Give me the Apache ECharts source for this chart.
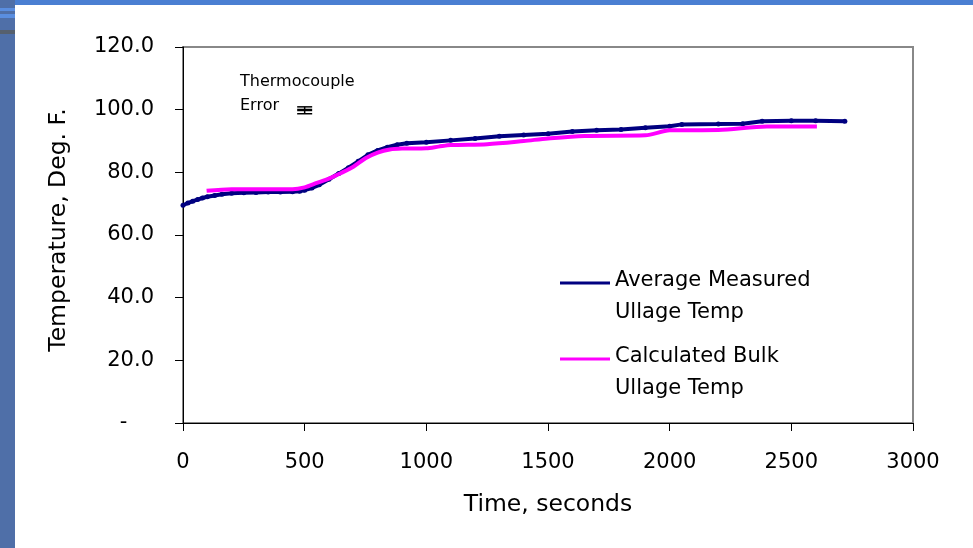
<!DOCTYPE html>
<html>
<head>
<meta charset="utf-8">
<script src="https://cdn.jsdelivr.net/npm/echarts@6/dist/echarts.min.js"></script>
<style>
html,body{margin:0;padding:0;background:#fff;}
#chart{width:973px;height:548px;}
</style>
</head>
<body>
<div id="chart"></div>
<script>
// Average Measured Ullage Temp (seconds, deg F)
const measuredTime = [0, 20, 40, 60, 80, 100, 130, 160, 200, 250, 300, 350, 400, 450, 480, 500, 530, 560, 600, 640, 680, 720, 760, 800, 840, 880, 920, 1000, 1100, 1200, 1300, 1400, 1500, 1600, 1700, 1800, 1900, 2000, 2050, 2200, 2300, 2380, 2500, 2600, 2720];
const measuredTemp = [69.5, 70.2, 70.8, 71.3, 71.8, 72.2, 72.6, 73.0, 73.3, 73.5, 73.6, 73.7, 73.7, 73.8, 74.0, 74.3, 75.0, 76.0, 77.8, 79.6, 81.5, 83.5, 85.6, 87.0, 88.0, 88.8, 89.3, 89.6, 90.2, 90.8, 91.5, 91.9, 92.3, 93.0, 93.4, 93.7, 94.2, 94.7, 95.3, 95.4, 95.5, 96.3, 96.5, 96.5, 96.3];
// Calculated Bulk Ullage Temp
const calcTime = [97, 200, 300, 450, 500, 550, 600, 650, 700, 750, 800, 850, 900, 1000, 1050, 1100, 1250, 1400, 1500, 1650, 1900, 2000, 2200, 2400, 2605];
const calcTemp = [74.1, 74.6, 74.6, 74.6, 75.2, 76.6, 78.0, 79.8, 81.8, 84.5, 86.3, 87.3, 87.6, 87.7, 88.2, 88.7, 89.0, 90.0, 90.8, 91.6, 91.8, 93.4, 93.5, 94.6, 94.6];
// Thermocouple error bar: [time, center, low, high]
const errorBar = [[500, 99.9, 98.7, 100.9]];
const seriesNames = ['Average Measured\nUllage Temp', 'Calculated Bulk\nUllage Temp'];
const xTitle = 'Time, seconds';
const yTitle = 'Temperature, Deg. F.';
const annotation = 'Thermocouple\nError';

const zip = (a, b) => a.map((v, i) => [v, b[i]]);
const FONT = '"DejaVu Sans", "Liberation Sans", Arial, sans-serif';
// legend icon: a short bar aligned with the first text line
const legendIcon = 'path://M0,0h0.01v0.01h-0.01Z M0,17h50v3h-50Z M49.99,63.99h0.01v0.01h-0.01Z';

const legendBase = {
  left: 560, padding: 0, orient: 'vertical', icon: legendIcon, itemWidth: 50, itemHeight: 64,
  selectedMode: false,
  textStyle: {fontFamily: FONT, fontSize: 21, color: '#000', lineHeight: 32}
};

const chart = echarts.init(document.getElementById('chart'), null, {renderer: 'canvas'});
chart.setOption({
  animation: false,
  backgroundColor: '#ffffff',
  grid: {left: 183, top: 47, right: 60, bottom: 125, show: true, borderColor: '#888888', borderWidth: 2, backgroundColor: 'transparent'},
  xAxis: {
    type: 'value', min: 0, max: 3000, interval: 500,
    name: xTitle, nameLocation: 'middle', nameGap: 70,
    nameTextStyle: {fontFamily: FONT, fontSize: 23.5, color: '#000'},
    axisLine: {show: true, lineStyle: {color: '#000', width: 1}},
    axisTick: {show: true, inside: false, length: 8, lineStyle: {color: '#000'}},
    axisLabel: {fontFamily: FONT, fontSize: 21, color: '#000', margin: 29, formatter: v => String(v)},
    splitLine: {show: false}
  },
  yAxis: {
    type: 'value', min: 0, max: 120, interval: 20,
    name: yTitle, nameLocation: 'middle', nameGap: 112, nameRotate: 90,
    nameTextStyle: {fontFamily: FONT, fontSize: 23.5, color: '#000', padding: [0, 0, 0, 10]},
    axisLine: {show: true, lineStyle: {color: '#000', width: 1}},
    axisTick: {show: true, inside: false, length: 8, lineStyle: {color: '#000'}},
    axisLabel: {fontFamily: FONT, fontSize: 21, color: '#000', margin: 29,
      formatter: v => v === 0 ? '-    ' : v.toFixed(1)},
    splitLine: {show: false}
  },
  legend: [
    Object.assign({}, legendBase, {data: [seriesNames[0]], top: 264.5}),
    Object.assign({}, legendBase, {data: [seriesNames[1]], top: 340.5})
  ],
  graphic: [
    {type: 'rect', z: -10, silent: true, shape: {x: 0, y: 0, width: 973, height: 5}, style: {fill: '#4a7fd2'}},
    {type: 'rect', z: -10, silent: true, shape: {x: 0, y: 0, width: 15, height: 548}, style: {fill: '#4f6fa8'}},
    {type: 'rect', z: -9, silent: true, shape: {x: 0, y: 8, width: 15, height: 3}, style: {fill: '#5a8ee0'}},
    {type: 'rect', z: -9, silent: true, shape: {x: 0, y: 14, width: 15, height: 4}, style: {fill: '#5a8ee0'}},
    {type: 'rect', z: -9, silent: true, shape: {x: 0, y: 30, width: 15, height: 4}, style: {fill: '#56606e'}},
    {type: 'text', left: 240, top: 70, silent: true,
     style: {text: annotation, font: '16px ' + FONT, fill: '#000', lineHeight: 24}}
  ],
  series: [
    {
      name: seriesNames[0], type: 'line', data: zip(measuredTime, measuredTemp),
      color: '#000080', symbol: 'circle', symbolSize: 5, showSymbol: true,
      itemStyle: {color: '#000080'},
      lineStyle: {color: '#000080', width: 4}, z: 2
    },
    {
      name: seriesNames[1], type: 'line', data: zip(calcTime, calcTemp),
      color: '#ff00ff', symbol: 'none', smooth: 0.3,
      lineStyle: {color: '#ff00ff', width: 4}, z: 3
    },
    {
      name: 'Thermocouple Error', type: 'custom', data: errorBar, z: 4,
      renderItem: function (params, api) {
        const x = api.value(0);
        const c = api.coord([x, api.value(1)]);
        const lo = api.coord([x, api.value(2)]);
        const hi = api.coord([x, api.value(3)]);
        const hw = 7.5;
        const st = {stroke: '#000', lineWidth: 1.5};
        return {type: 'group', children: [
          {type: 'line', shape: {x1: c[0], y1: hi[1], x2: c[0], y2: lo[1]}, style: st},
          {type: 'line', shape: {x1: c[0]-hw, y1: hi[1], x2: c[0]+hw, y2: hi[1]}, style: st},
          {type: 'line', shape: {x1: c[0]-hw, y1: lo[1], x2: c[0]+hw, y2: lo[1]}, style: st},
          {type: 'line', shape: {x1: c[0]-hw, y1: c[1], x2: c[0]+hw, y2: c[1]}, style: {stroke: '#000', lineWidth: 2.5}}
        ]};
      }
    }
  ]
});
</script>
</body>
</html>
